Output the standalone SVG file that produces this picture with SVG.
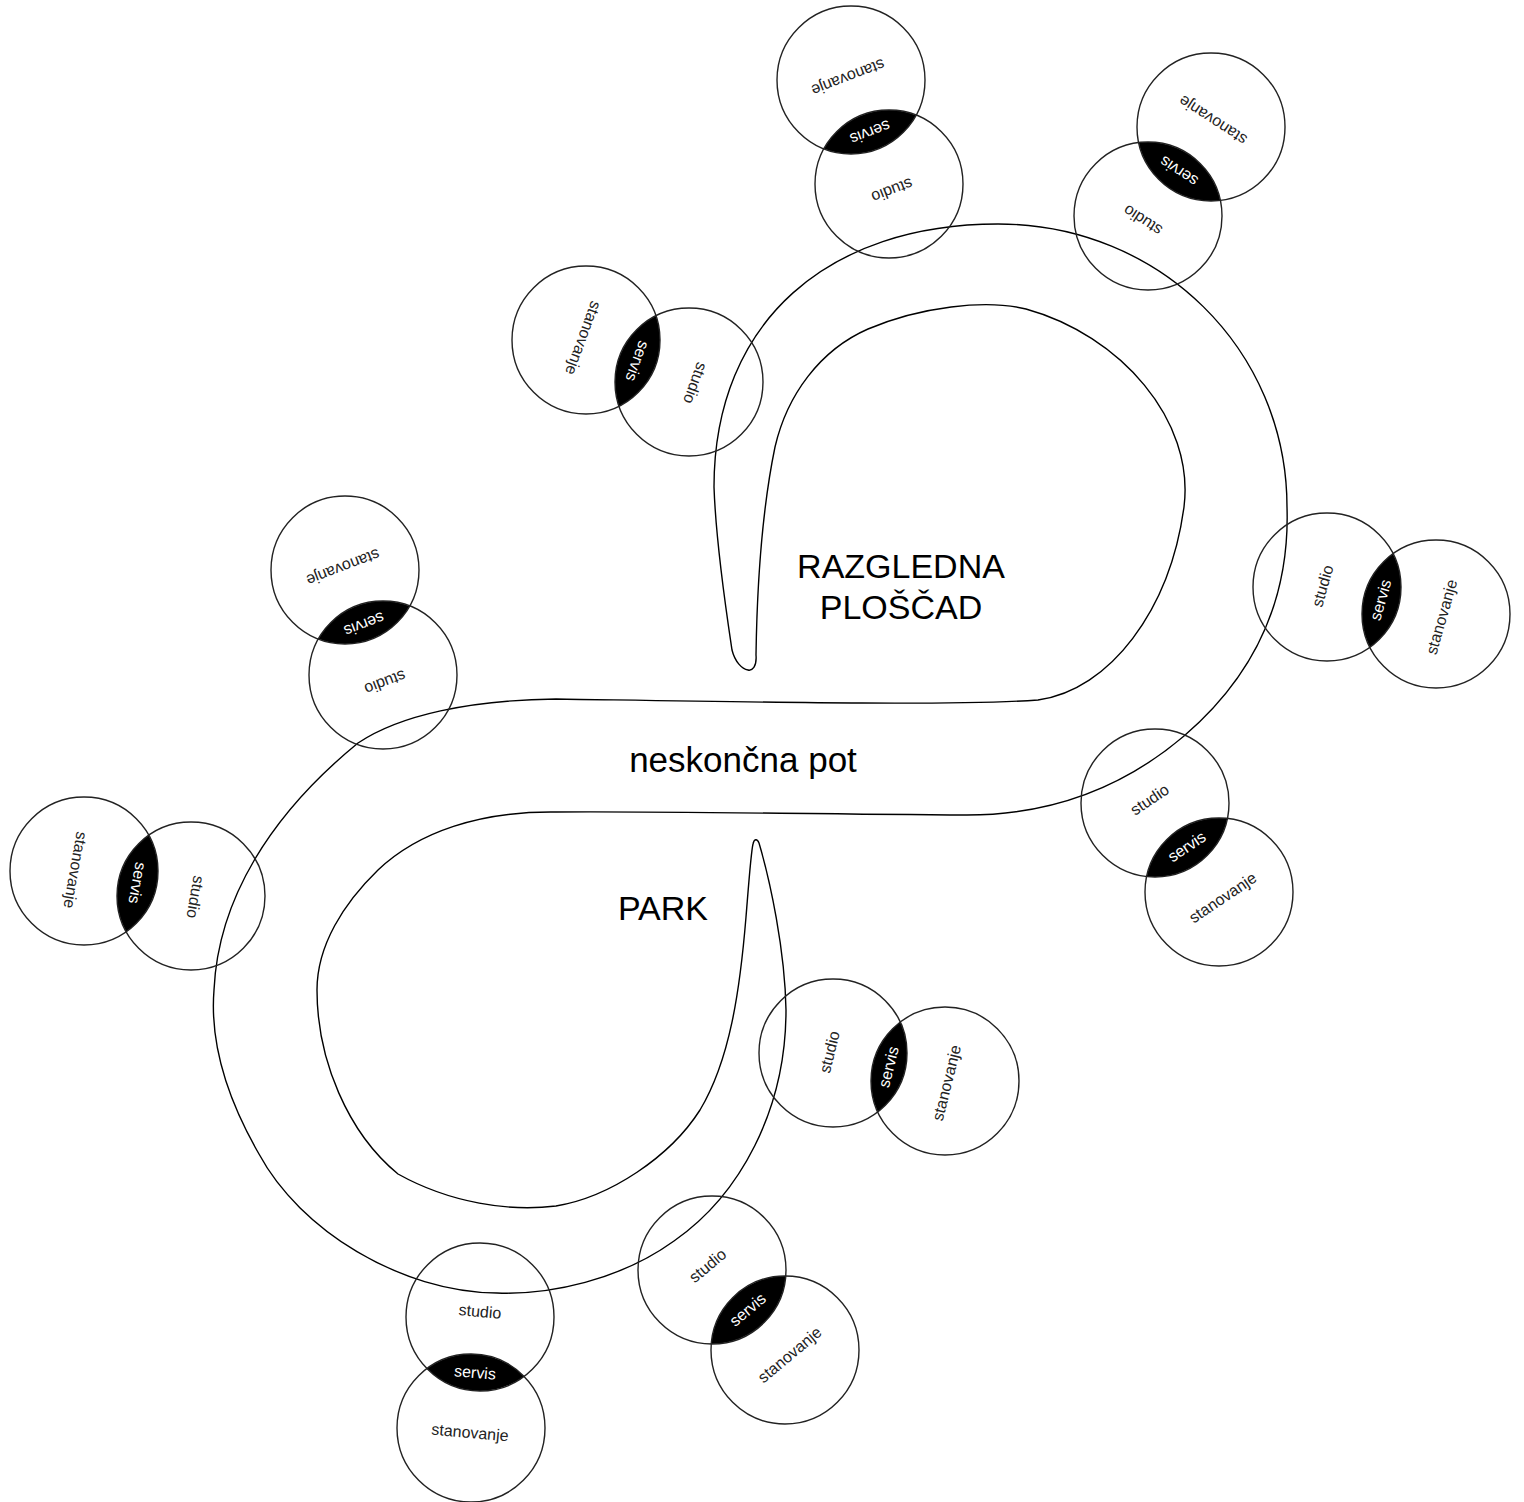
<svg xmlns="http://www.w3.org/2000/svg" width="1524" height="1502" viewBox="0 0 1524 1502">
<style>
.c{fill:none;stroke:#222;stroke-width:1.4}
.l{fill:#000}
.t{font-family:"Liberation Sans",Arial,sans-serif;font-size:16px;fill:#222;text-anchor:middle}
.s{font-family:"Liberation Sans",Arial,sans-serif;font-size:16px;fill:#fff;text-anchor:middle}
.big{font-family:"Liberation Sans",Arial,sans-serif;font-size:34px;fill:#000;text-anchor:middle}
.p{fill:none;stroke:#000;stroke-width:1.4}
</style>
<defs>
<clipPath id="k1"><circle cx="889" cy="184" r="74"/></clipPath>
<clipPath id="k2"><circle cx="1148" cy="216" r="74"/></clipPath>
<clipPath id="k3"><circle cx="689" cy="382" r="74"/></clipPath>
<clipPath id="k4"><circle cx="383" cy="675" r="74"/></clipPath>
<clipPath id="k5"><circle cx="191" cy="896" r="74"/></clipPath>
<clipPath id="k6"><circle cx="1327" cy="587" r="74"/></clipPath>
<clipPath id="k7"><circle cx="1155" cy="803" r="74"/></clipPath>
<clipPath id="k8"><circle cx="833" cy="1053" r="74"/></clipPath>
<clipPath id="k9"><circle cx="712" cy="1270" r="74"/></clipPath>
<clipPath id="k10"><circle cx="480" cy="1317" r="74"/></clipPath>
</defs>
<rect width="1524" height="1502" fill="#fff"/>

<g id="path">
<path class="p" d="M 756,655 C 757,667 752,671 748,670 C 742,669 735,662 732,650 C 726,610 716,545 714,487 C 714,320 830,224 998,224 C 1160,224 1287,350 1287,507 C 1290,600 1255,675 1184,736 C 1130,782 1060,815 967,815 C 800,814 650,811 556,812 C 480,811 418,832 378,870 C 344,903 317,945 317,990 C 317,1060 348,1133 398,1174 C 450,1203 510,1212 556,1206 C 610,1197 670,1157 700,1110 C 730,1060 740,990 746,917 C 749,880 751,852 753,844 C 754,839 757,838 759,843 C 770,880 785,950 786,1010 C 786,1110 740,1195 674,1241 C 620,1280 550,1295 497,1293 C 400,1292 300,1230 259,1154 C 225,1095 210,1040 214,990 C 218,900 270,815 358,743 C 400,715 470,700 556,699 C 750,702 950,706 1038,700 C 1110,690 1170,610 1184,507 C 1195,420 1120,335 1026,309 C 985,299 920,307 868,329 C 820,350 787,395 775,447 C 762,510 757,590 756,655 Z"/>
<text class="big" x="901" y="578">RAZGLEDNA</text>
<text class="big" x="901" y="619">PLOŠČAD</text>
<text class="big" x="743" y="772" style="font-size:35px">neskončna pot</text>
<text class="big" x="663" y="920">PARK</text>
</g>

<g id="pair1">
<circle class="l" cx="851" cy="80" r="74" clip-path="url(#k1)"/>
<circle class="c" cx="851" cy="80" r="74"/>
<circle class="c" cx="889" cy="184" r="74"/>
<text class="t" transform="translate(848,77) rotate(159)" y="5">stanovanje</text>
<text class="s" transform="translate(870,132) rotate(159)" y="5">servis</text>
<text class="t" transform="translate(892,190) rotate(159)" y="5">studio</text>
</g>

<g id="pair2">
<circle class="l" cx="1211" cy="127" r="74" clip-path="url(#k2)"/>
<circle class="c" cx="1211" cy="127" r="74"/>
<circle class="c" cx="1148" cy="216" r="74"/>
<text class="t" transform="translate(1213,120) rotate(213)" y="5">stanovanje</text>
<text class="s" transform="translate(1179,171) rotate(213)" y="5">servis</text>
<text class="t" transform="translate(1143,220) rotate(213)" y="5">studio</text>
</g>

<g id="pair3">
<circle class="l" cx="586" cy="340" r="74" clip-path="url(#k3)"/>
<circle class="c" cx="586" cy="340" r="74"/>
<circle class="c" cx="689" cy="382" r="74"/>
<text class="t" transform="translate(583,338) rotate(110)" y="5">stanovanje</text>
<text class="s" transform="translate(637,361) rotate(110)" y="5">servis</text>
<text class="t" transform="translate(695,383) rotate(110)" y="5">studio</text>
</g>

<g id="pair4">
<circle class="l" cx="345" cy="570" r="74" clip-path="url(#k4)"/>
<circle class="c" cx="345" cy="570" r="74"/>
<circle class="c" cx="383" cy="675" r="74"/>
<text class="t" transform="translate(343,567) rotate(159)" y="5">stanovanje</text>
<text class="s" transform="translate(364,624) rotate(159)" y="5">servis</text>
<text class="t" transform="translate(385,682) rotate(159)" y="5">studio</text>
</g>

<g id="pair5">
<circle class="l" cx="84" cy="871" r="74" clip-path="url(#k5)"/>
<circle class="c" cx="84" cy="871" r="74"/>
<circle class="c" cx="191" cy="896" r="74"/>
<text class="t" transform="translate(75,870) rotate(100)" y="5">stanovanje</text>
<text class="s" transform="translate(137,883) rotate(100)" y="5">servis</text>
<text class="t" transform="translate(195,897) rotate(100)" y="5">studio</text>
</g>

<g id="pair6">
<circle class="l" cx="1436" cy="614" r="74" clip-path="url(#k6)"/>
<circle class="c" cx="1327" cy="587" r="74"/>
<circle class="c" cx="1436" cy="614" r="74"/>
<text class="t" transform="translate(1323,586) rotate(-74)" y="5">studio</text>
<text class="s" transform="translate(1381,600) rotate(-74)" y="5">servis</text>
<text class="t" transform="translate(1442,617) rotate(-74)" y="5">stanovanje</text>
</g>

<g id="pair7">
<circle class="l" cx="1219" cy="892" r="74" clip-path="url(#k7)"/>
<circle class="c" cx="1155" cy="803" r="74"/>
<circle class="c" cx="1219" cy="892" r="74"/>
<text class="t" transform="translate(1150,800) rotate(-34)" y="5">studio</text>
<text class="s" transform="translate(1187,847) rotate(-34)" y="5">servis</text>
<text class="t" transform="translate(1223,898) rotate(-34)" y="5">stanovanje</text>
</g>

<g id="pair8">
<circle class="l" cx="945" cy="1081" r="74" clip-path="url(#k8)"/>
<circle class="c" cx="833" cy="1053" r="74"/>
<circle class="c" cx="945" cy="1081" r="74"/>
<text class="t" transform="translate(830,1052) rotate(-76)" y="5">studio</text>
<text class="s" transform="translate(889,1067) rotate(-76)" y="5">servis</text>
<text class="t" transform="translate(947,1083) rotate(-76)" y="5">stanovanje</text>
</g>

<g id="pair9">
<circle class="l" cx="785" cy="1350" r="74" clip-path="url(#k9)"/>
<circle class="c" cx="712" cy="1270" r="74"/>
<circle class="c" cx="785" cy="1350" r="74"/>
<text class="t" transform="translate(708,1266) rotate(-40)" y="5">studio</text>
<text class="s" transform="translate(748,1310) rotate(-40)" y="5">servis</text>
<text class="t" transform="translate(790,1355) rotate(-40)" y="5">stanovanje</text>
</g>

<g id="pair10">
<circle class="l" cx="471" cy="1428" r="74" clip-path="url(#k10)"/>
<circle class="c" cx="480" cy="1317" r="74"/>
<circle class="c" cx="471" cy="1428" r="74"/>
<text class="t" transform="translate(480,1312) rotate(5)" y="5">studio</text>
<text class="s" transform="translate(475,1373) rotate(5)" y="5">servis</text>
<text class="t" transform="translate(470,1433) rotate(5)" y="5">stanovanje</text>
</g>
</svg>
